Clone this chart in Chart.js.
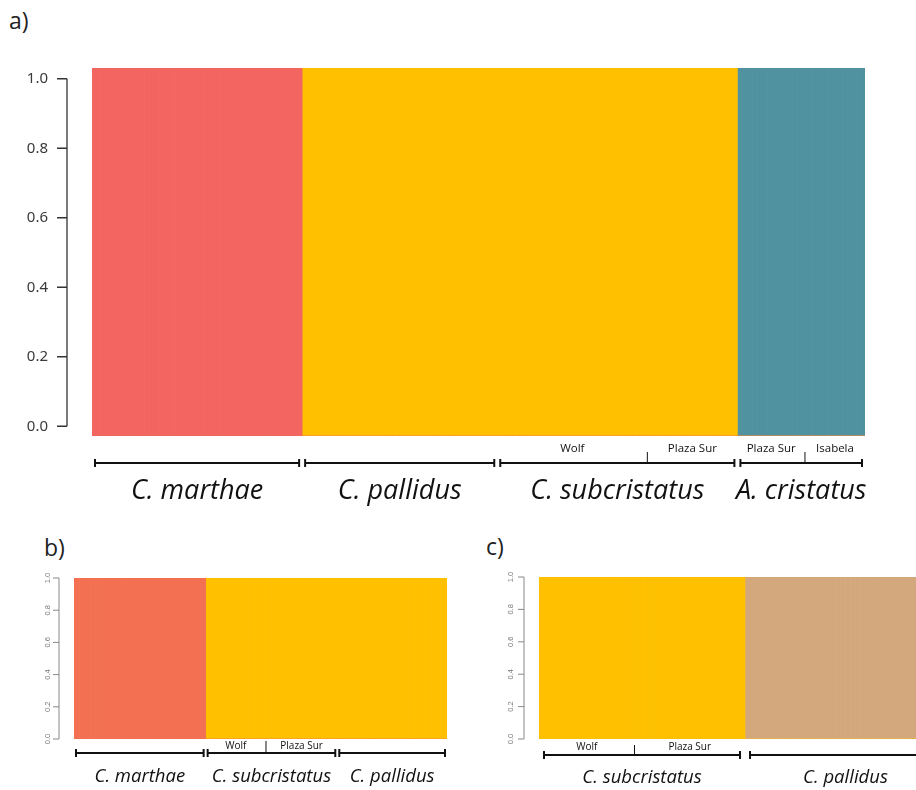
<!DOCTYPE html>
<html>
<head>
<meta charset="utf-8">
<script src="https://cdn.jsdelivr.net/npm/chart.js@4/dist/chart.umd.min.js"></script>
<style>
html, body { margin: 0; padding: 0; background: #fff; overflow: hidden; }
body { width: 916px; height: 790px; position: relative; }
.panel { position: absolute; }
.tag { position: absolute; font-family: "Open Sans", sans-serif; font-size: 23px; line-height: 30px; color: #222; }
</style>
</head>
<body>
<div class="tag" style="left:9px;top:5px">a)</div>
<div class="tag" style="left:44px;top:532px">b)</div>
<div class="tag" style="left:486px;top:531px">c)</div>
<div class="panel" style="left:0;top:0;width:916px;height:520px"><canvas id="chartA"></canvas></div>
<div class="panel" style="left:0;top:530px;width:460px;height:260px"><canvas id="chartB"></canvas></div>
<div class="panel" style="left:470px;top:530px;width:500px;height:260px"><canvas id="chartC"></canvas></div>
<script>
// panel a: K = 3
const aSpecies = ['C. marthae', 'C. pallidus', 'C. subcristatus', 'A. cristatus'];
const aPops = ['', '', 'Wolf', 'Plaza Sur', 'Plaza Sur', 'Isabela'];
const aPopSpecies = [0, 1, 2, 2, 3, 3];
const aPopSizes = [28, 26, 20, 12, 9, 8];
const aK1 = [1, 0, 0, 0, 0, 0];
const aK2 = [0, 1, 1, 1, 0, 0];
const aK3 = [0, 0, 0, 0, 1, 1];
const aColors = ['#F26560', '#FFC000', '#5192A0'];

// panel b: K = 2
const bSpecies = ['C. marthae', 'C. subcristatus', 'C. pallidus'];
const bPops = ['', 'Wolf', 'Plaza Sur', ''];
const bPopSpecies = [0, 1, 1, 2];
const bPopSizes = [24, 11, 13, 20];
const bK1 = [1, 0, 0, 0];
const bK2 = [0, 1, 1, 1];
const bColors = ['#F37052', '#FFC000'];

// panel c: K = 2
const cSpecies = ['C. subcristatus', 'C. pallidus'];
const cPops = ['Wolf', 'Plaza Sur', ''];
const cPopSpecies = [0, 0, 1];
const cPopSizes = [19, 22, 40];
const cK1 = [1, 1, 0];
const cK2 = [0, 0, 1];
const cColors = ['#FFC000', '#D4A87D'];

const yTicks = [0, 0.2, 0.4, 0.6, 0.8, 1];

function expand(sizes, q) {
  const out = [];
  sizes.forEach((n, i) => { for (let j = 0; j < n; j++) out.push(q[i]); });
  return out;
}

// axis line + species brackets under the bars
const structurePlugin = {
  id: 'structure',
  afterDraw(chart, args, o) {
    const ctx = chart.ctx;
    const area = chart.chartArea;
    const ys = chart.scales.y;
    const xs = chart.scales.x;

    ctx.save();
    ctx.strokeStyle = o.axisColor;
    ctx.lineWidth = o.axisWidth;
    const ax = area.left - o.axisGap;
    ctx.beginPath();
    ctx.moveTo(ax, ys.getPixelForValue(0));
    ctx.lineTo(ax, ys.getPixelForValue(1));
    yTicks.forEach(v => {
      const py = ys.getPixelForValue(v);
      ctx.moveTo(ax, py);
      ctx.lineTo(ax - o.tickLen, py);
    });
    ctx.stroke();

    const unit = xs.getPixelForValue(1) - xs.getPixelForValue(0);
    const edge = i => xs.getPixelForValue(i) - unit / 2;
    const starts = [];
    let acc = 0;
    o.sizes.forEach(n => { starts.push(acc); acc += n; });

    const by = area.bottom + o.bracketOffset;
    ctx.strokeStyle = '#111';
    ctx.fillStyle = '#111';
    ctx.lineWidth = 2;
    ctx.textAlign = 'center';
    ctx.textBaseline = 'middle';
    o.species.forEach((name, s) => {
      const idx = o.popSpecies.map((p, i) => p === s ? i : -1).filter(i => i >= 0);
      const from = starts[idx[0]];
      const last = idx[idx.length - 1];
      const to = starts[last] + o.sizes[last];
      const x0 = edge(from) + o.inset;
      const x1 = edge(to) - o.inset;
      ctx.beginPath();
      ctx.moveTo(x0, by); ctx.lineTo(x1, by);
      ctx.moveTo(x0, by - 4); ctx.lineTo(x0, by + 4);
      ctx.moveTo(x1, by - 4); ctx.lineTo(x1, by + 4);
      ctx.stroke();

      // sub-populations
      ctx.font = o.subFont;
      idx.forEach((pi, k) => {
        if (!o.pops[pi]) return;
        const a = edge(starts[pi]);
        const b = edge(starts[pi] + o.sizes[pi]);
        ctx.fillText(o.pops[pi], (a + b) / 2, area.bottom + o.subOffset);
        if (k > 0) {
          ctx.lineWidth = 1;
          ctx.beginPath();
          ctx.moveTo(a, by); ctx.lineTo(a, by - o.divLen);
          ctx.stroke();
          ctx.lineWidth = 2;
        }
      });

      ctx.font = o.speciesFont;
      ctx.fillText(name, (x0 + x1) / 2, area.bottom + o.labelOffset);
    });
    ctx.restore();
  }
};

function makeChart(id, cfg) {
  const labels = [];
  cfg.sizes.forEach((n, i) => { for (let j = 0; j < n; j++) labels.push(cfg.pops[i] || cfg.species[cfg.popSpecies[i]]); });
  new Chart(document.getElementById(id), {
    type: 'bar',
    data: {
      labels: labels,
      datasets: cfg.ks.map((k, i) => ({
        label: 'K' + (i + 1),
        data: expand(cfg.sizes, k),
        backgroundColor: cfg.colors[i],
        borderWidth: 0,
        barPercentage: 1,
        categoryPercentage: 1,
        yAxisID: 'q'
      }))
    },
    options: {
      responsive: true,
      maintainAspectRatio: false,
      animation: false,
      layout: { padding: cfg.padding },
      plugins: {
        legend: { display: false },
        tooltip: { enabled: false },
        structure: {
          species: cfg.species, pops: cfg.pops, popSpecies: cfg.popSpecies, sizes: cfg.sizes,
          axisColor: cfg.axisColor, axisWidth: cfg.axisWidth, axisGap: cfg.axisGap, tickLen: cfg.tickLen,
          bracketOffset: cfg.bracketOffset, subOffset: cfg.subOffset, labelOffset: cfg.labelOffset,
          divLen: cfg.divLen, inset: cfg.inset, subFont: cfg.subFont, speciesFont: cfg.speciesFont
        }
      },
      scales: {
        x: { display: false, stacked: true },
        q: { display: false, stacked: true, min: 0, max: 1, position: 'left' },
        y: {
          position: 'left',
          min: cfg.yMin,
          max: cfg.yMax,
          afterBuildTicks: s => { s.ticks = yTicks.map(v => ({ value: v })); },
          afterFit: s => { s.width = cfg.axisBox; },
          grid: { display: false, drawTicks: false },
          border: { display: false },
          ticks: {
            padding: cfg.labelPad,
            color: cfg.tickColor,
            font: cfg.tickFont,
            minRotation: cfg.rotate,
            maxRotation: cfg.rotate,
            crossAlign: cfg.rotate ? 'center' : 'near',
            callback: v => v.toFixed(1)
          }
        }
      }
    },
    plugins: [structurePlugin]
  });
}

makeChart('chartA', {
  species: aSpecies, pops: aPops, popSpecies: aPopSpecies, sizes: aPopSizes,
  ks: [aK1, aK2, aK3], colors: aColors,
  padding: { top: 68, right: 51, bottom: 84, left: 0 },
  yMin: -0.028, yMax: 1.031, axisBox: 92, labelPad: 44, rotate: 0,
  tickColor: '#3a3a3a', tickFont: { family: 'Noto Sans', size: 15 },
  axisColor: '#333', axisWidth: 1.3, axisGap: 25, tickLen: 10,
  bracketOffset: 27, subOffset: 13, labelOffset: 55, divLen: 11, inset: 3,
  subFont: '11.5px "Open Sans"', speciesFont: 'italic 27px "Open Sans"'
});

makeChart('chartB', {
  species: bSpecies, pops: bPops, popSpecies: bPopSpecies, sizes: bPopSizes,
  ks: [bK1, bK2], colors: bColors,
  padding: { top: 48, right: 13, bottom: 51, left: 0 },
  yMin: 0, yMax: 1, axisBox: 74, labelPad: 21, rotate: 90,
  tickColor: '#777', tickFont: { family: 'Liberation Sans', size: 7.5 },
  axisColor: '#888', axisWidth: 1, axisGap: 15, tickLen: 6,
  bracketOffset: 14, subOffset: 7, labelOffset: 38, divLen: 12, inset: 2,
  subFont: '10px "Open Sans"', speciesFont: 'italic 18.5px "Open Sans"'
});

makeChart('chartC', {
  species: cSpecies, pops: cPops, popSpecies: cPopSpecies, sizes: cPopSizes,
  ks: [cK1, cK2], colors: cColors,
  padding: { top: 47, right: 24, bottom: 51, left: 0 },
  yMin: 0, yMax: 1, axisBox: 69, labelPad: 23, rotate: 90,
  tickColor: '#777', tickFont: { family: 'Liberation Sans', size: 7.5 },
  axisColor: '#888', axisWidth: 1, axisGap: 15, tickLen: 6,
  bracketOffset: 16, subOffset: 8, labelOffset: 39, divLen: 10, inset: 5,
  subFont: '10px "Open Sans"', speciesFont: 'italic 18.5px "Open Sans"'
});
</script>
</body>
</html>
